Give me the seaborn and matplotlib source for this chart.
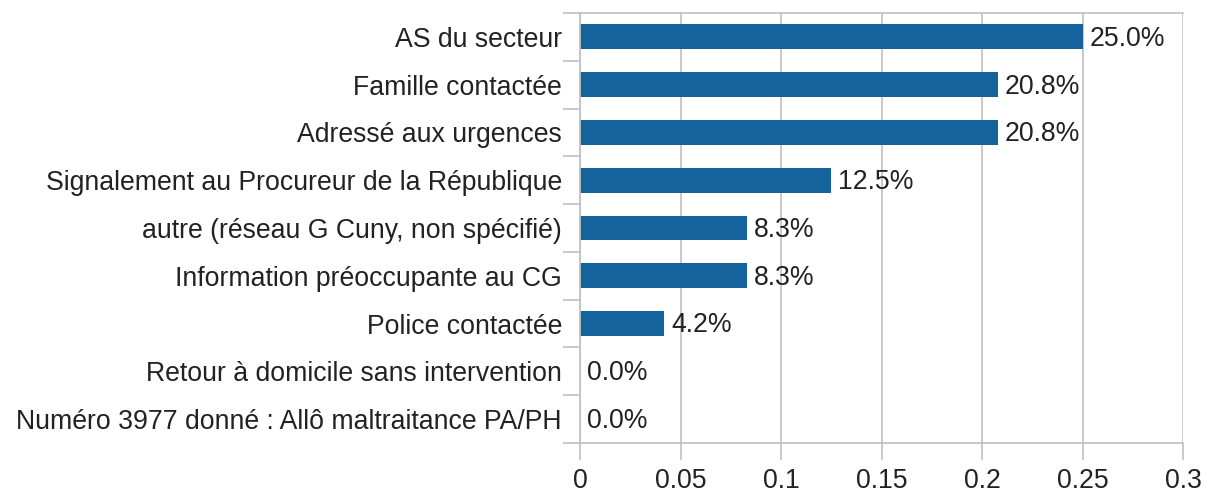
import matplotlib
matplotlib.use("Agg")
import matplotlib.pyplot as plt
import seaborn as sns
import pandas as pd
from matplotlib.ticker import FixedLocator

categories = [
    "AS du secteur",
    "Famille contactée",
    "Adressé aux urgences",
    "Signalement au Procureur de la République",
    "autre (réseau G Cuny, non spécifié)",
    "Information préoccupante au CG",
    "Police contactée",
    "Retour à domicile sans intervention",
    "Numéro 3977 donné : Allô maltraitance PA/PH",
]
values = [0.250, 0.208, 0.208, 0.125, 0.083, 0.083, 0.042, 0.0, 0.0]
xticks = [0, 0.05, 0.1, 0.15, 0.2, 0.25, 0.3]
xtick_labels = ["0", "0.05", "0.1", "0.15", "0.2", "0.25", "0.3"]

df = pd.DataFrame({"categorie": categories, "part": values})

sns.set_style("white")
plt.rcParams["font.family"] = ["Liberation Sans", "DejaVu Sans"]

fig = plt.figure(figsize=(12.13, 4.92), dpi=100)
ax = fig.add_axes([580 / 1213, 1 - 443 / 492, 603 / 1213, 430 / 492])

sns.barplot(data=df, x="part", y="categorie", orient="h", color="#14639c",
            width=0.52, saturation=1, linewidth=0, ax=ax)

gris = "#c0c0c0"
txt = "#222222"
fs = 19.2
ax.set_xlim(0, 0.3)
ax.set_ylim(len(categories) - 0.5, -0.5)
ax.set_xticks(xticks)
ax.set_xticklabels(xtick_labels, fontsize=fs, color=txt)
ax.grid(axis="x", color=gris, linewidth=1.2)
ax.set_axisbelow(True)
ax.set_xlabel("")
ax.set_ylabel("")

# ticks de catégories aux limites, comme Excel
ax.tick_params(axis="y", which="major", length=0, labelsize=fs, labelcolor=txt, pad=13)
ax.yaxis.set_minor_locator(FixedLocator([i - 0.5 for i in range(len(categories) + 1)]))
ax.tick_params(axis="y", which="minor", length=12, width=1.2, color=gris, left=True)
ax.tick_params(axis="x", which="major", length=12, width=1.2, color=gris, bottom=True, pad=6)

for s in ["left", "bottom", "top", "right"]:
    ax.spines[s].set_color(gris)
    ax.spines[s].set_linewidth(1.2)
ax.spines["right"].set_visible(False)

for i, v in enumerate(values):
    ax.text(v + 0.0035, i + 0.04, f"{v * 100:.1f}%", va="center", ha="left",
            fontsize=fs, color=txt)

fig.savefig("out.png", dpi=100)
